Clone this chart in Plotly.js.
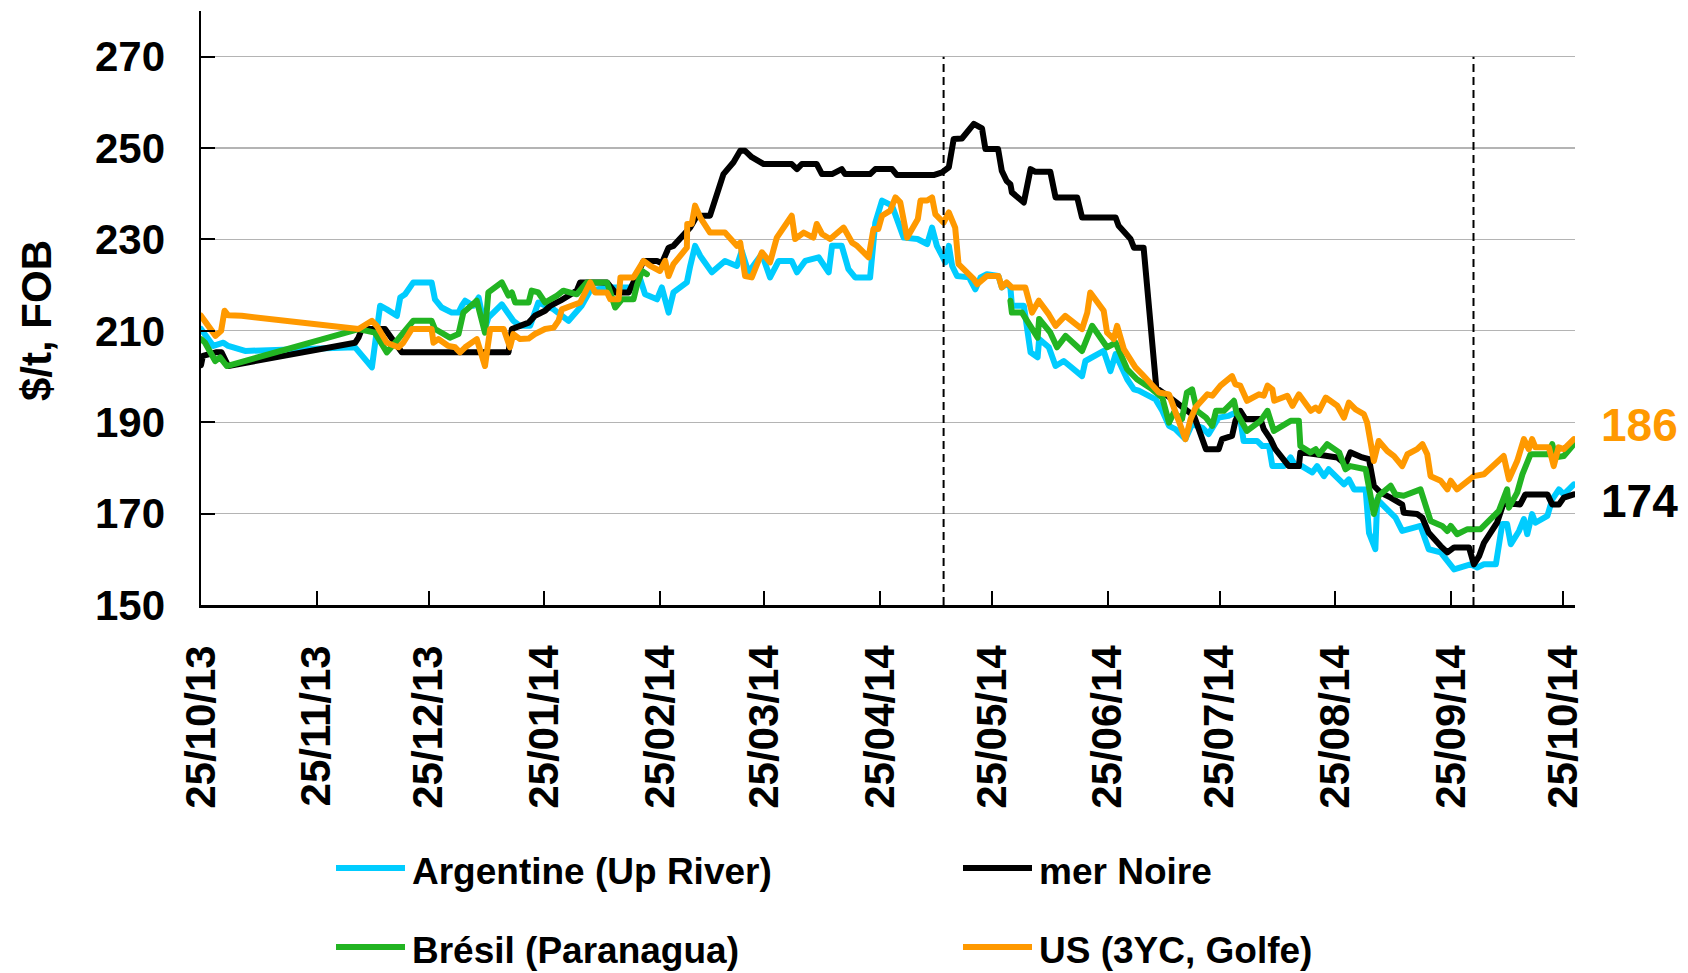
<!DOCTYPE html>
<html>
<head>
<meta charset="utf-8">
<script src="https://cdn.plot.ly/plotly-3.0.1.min.js"></script>
<style>
  html, body { margin: 0; padding: 0; background: #fff; }
  #chart { width: 1688px; height: 973px; }
  .scatterlayer .js-line { stroke-linejoin: round; stroke-linecap: round; }
</style>
</head>
<body>
<div id="chart"></div>
<script>
// ---- Data (x = days since 25/10/2013, y = $/t FOB) ----
const startDate = '2013-10-25';

const seriesNames  = ['Argentine (Up River)', 'mer Noire', 'Brésil (Paranagua)', 'US (3YC, Golfe)'];
const seriesColors = ['#00CCFF', '#000000', '#22B422', '#FF9900'];
const yAxisTitle = '$/t, FOB';

const argentineDays = [0,3.3,6,7.3,11.8,41.3,45.8,48,49.8,52.5,53.4,54.7,56.9,61.8,62.7,64.5,67.2,69,69.9,70.8,73,74.4,76.1,77,80.6,82.4,83.7,85.5,88.2,90.4,92.2,
  94.5,98.5,102,104.3,108.8,115,117.7,119,122.2,123.5,125.3,126.6,130.2,131.1,132.4,133.8,136.9,140.4,143.6,144.9,146.7,150.3,152.5,154.8,158.3,159.7,161.9,165.5,168.2,169.1,171.7,173.5,175.3,179.3,180.7,182.5,184.7,
  185.2,188.3,192,194.6,195.9,197.2,199.5,200.4,201.3,202.6,205.8,207.5,208.9,210.6,213.7,214.6,215.9,216.9,217.3,220.5,222.3,224.2,224.6,227.2,229,231.2,236.1,237,241.9,243.7,245.1,248.2,250,251.3,255.8,257.6,259.4,261.1,263.8,265.6,268.3,270,272.7,275.4,
  277.2,278.5,279.4,283,284.4,286.2,287.1,290.2,292,293.3,295,297.8,299.1,300.9,302.2,306.3,307.6,309,312.1,313,314.7,315.2,317,320.1,321.9,324.1,326.8,329,332.2,335.8,338,340.2,342,343.8,347,348.7,350,351,353.2,354.5,355.4,356.7,357.6,360.8,362.1,363.9,365.2,367.9];
const argentineValues = [210.4,206.7,207.4,206.7,205.6,206.4,202,215.5,214.7,213.3,217.3,218,220.6,220.6,216.9,215.1,214,214,215.5,216.6,215.5,217.3,210.4,212.9,215.8,214,212.2,211.1,211.1,216.2,215.5,
  214.7,212.2,215.5,218.8,219.5,219.5,221.3,218,216.9,219.5,214,218.4,220.6,224.2,228.6,226.4,222.8,225.3,224.2,227.5,222.8,226.8,221.7,225.3,225.3,222.8,225.3,226.1,222.8,228.6,228.6,223.5,221.7,221.7,233.7,238.5,237.7,
  237.4,230.4,230.1,229,232.6,228.6,225,228.6,224.2,222,221.7,219.1,221.7,222.4,222,219.5,220.3,219.5,215.5,215.5,205.3,204.2,208.2,206.4,202.3,203.4,200.1,203.4,205.6,201.2,204.9,199.4,197.2,196.9,195,192.5,189.2,188.5,186.3,189.6,188.8,187.4,191,191.4,
  192.1,190.7,185.9,185.9,184.8,184.8,180.4,180.4,182.3,180.4,180.4,179,180.4,178.2,179.7,176.4,177.5,175.3,175.3,165.8,162.2,173.1,171.7,169.1,166.2,166.6,167.3,162.2,161.5,157.8,158.5,158.9,158.2,158.9,158.9,167.7,167.7,163.3,166.2,168.8,165.5,169.9,168,169.5,173.1,175.3,174.2,176.4];

const merNoireDays = [0,0.5,4,5.5,7.3,41.3,42.2,43.1,49.3,53.8,82.4,83.3,87.8,89.5,92.2,93.6,96.3,100.7,101.6,108.8,111,114.6,118.6,122.2,123.5,125.3,126.6,129.3,131.1,132.9,136.4,140,142.7,144.5,145.8,147.6,150.8,158.3,159.7,161,165,166.4,169.1,171.7,172.6,179.3,180.7,
  185.2,186.5,196.3,198.6,200.4,201.7,203.9,207.1,209.3,210.2,213.6,214.6,215.9,216.9,217.3,220.5,222.3,223.6,227.6,229,234.8,236.1,245.1,245.9,249.1,250,252.6,256,258.5,262.1,266.1,269.3,272.7,273.6,276.3,
  277.2,278.5,279.9,283.9,284.8,286.6,287.9,290.6,291.5,294.2,294.6,298.7,304.5,306.7,308,311.2,313,314.3,316.1,318.8,321.9,322.3,325.9,327.3,329,332.2,334,335.8,339.8,341.1,342.5,343.8,347.3,349.1,351.7,353.5,354.9,360.8,362.1,363.9,365.2,367.9];
const merNoireValues = [202.5,204.5,205.3,205.3,202.3,207.4,208.5,210.4,210.4,205.3,205.3,210.4,211.8,213.3,214.4,215.5,216.6,218.8,220.6,220.6,218.4,218.4,225.3,225.3,224.8,228.2,228.6,230.8,232.6,235.2,235.2,244.3,246.9,249.4,249.4,248,246.5,246.5,245.4,246.5,246.5,244.3,244.3,245.4,244.3,244.3,245.4,
  245.4,244.1,244.1,244.7,245.8,252,252.1,255.3,254.3,249.8,249.8,245,242.8,242.1,240.3,238.1,245.4,244.8,244.8,239.2,239.2,234.8,234.8,233,230.1,228.2,228.2,197.5,196.1,193.9,191.4,184.1,184.1,186.3,187,
  190.3,192.5,190.7,190.7,188.5,186.3,184.1,181.2,180.4,180.4,183.4,183,182.3,180.8,183.4,182.3,181.9,176.1,174.6,173.5,172,170.2,169.9,169.1,165.8,162.9,161.5,162.6,162.6,158.9,160.7,163.6,168,172.4,172,172,174.2,174.2,172,172,173.5,174.2];

const bresilDays = [0,1.1,3.8,5.1,6.9,42.2,46.6,49.8,52,55.6,56.9,61.8,62.7,66.7,69,70.3,71.7,73.9,76.1,77,80.6,82.4,83.3,84.2,87.8,88.6,90.4,92.2,95.4,97.1,100.7,103.4,108.8,111,112.8,115.9,116.8,118.2,119.5,
  168,
  216.9,217.3,220,221.8,224.2,224.6,227.6,229.4,231.7,236.1,238.8,242.8,245.1,248.2,250.8,254.9,257.6,259.4,260.7,262.9,264.2,265.6,266.9,269.3,271,272,274.1,276.8,
  277.5,280.3,283.9,285.8,287.5,292,294.2,294.6,297.3,298.7,299.6,301.8,305,306.7,308,312.1,313,314.3,315.6,318.8,320.1,322.3,326.8,328.6,329.5,332.6,334,334.9,336.6,339.4,342.9,345.1,347.8,350,350.5,352.7,354.1,356.3,361.2,362.1,363,365.2,367.9];
const bresilValues = [208.2,207.4,203.4,204.2,202.3,210.4,209.6,205.3,207.4,211.1,212.2,212.2,210.4,208.5,209.3,214,215.1,216.6,209.6,218.4,220.6,217.7,218.4,216.2,216.2,218.8,218.4,216.2,217.7,218.8,218,220.6,220.6,215.1,216.9,216.9,219.9,223.1,222.4,
  null,
  216.6,214,214,211.8,208.5,212.6,209.6,206.4,208.9,205.6,211.1,206.4,207.4,201.6,199.4,197.2,195.4,189.9,192.1,190.7,196.5,197.2,192.5,191,189.2,192.5,192.5,194.7,
  192.1,188.1,190.3,192.5,188.1,190.3,190.3,184.8,183.4,184.1,183,185.2,183.4,179.7,180.4,179.7,176.1,169.9,173.9,176.1,174.2,173.9,175.3,171.3,168.4,167.3,166.2,167.3,165.5,166.6,166.6,168.4,170.6,175.3,171.3,174.6,178.6,183,183,185.2,182.3,182.6,185.2];

const usDays = [0,3.9,5.4,6.3,7.3,10.9,42.2,45.8,47.1,49.8,52.9,54.2,56.5,61.8,62.3,63.6,66.3,68.1,69.4,70.8,73.9,76.1,77.5,81.1,82.8,83.7,85.5,87.8,89.5,92.2,
  94.5,95.8,96.7,101.6,104.3,105.6,108.8,109.7,111.9,112.4,115.9,118.6,120.4,123,124.4,125.3,126.6,130.2,130.3,131.5,132.4,133.8,136.4,140.4,143.6,144.5,145.8,147.6,150.3,152.5,154.3,158.3,159.2,161.5,164.1,165,166.4,168.6,172.2,174.5,175.8,178.9,180.2,181.5,182.5,184.7,
  186.1,187.4,189.2,192.1,192.8,194.6,195.9,196.8,199,200.4,202.1,203,207.1,208,210.6,213.7,214.6,215.9,217.3,220.9,222.7,224.5,227.2,229,231.6,236.1,237.5,238.3,241.9,242.8,244.6,245.5,247.3,249.1,250.4,252.2,254.9,256.7,259.4,261.6,263.8,265.2,266.5,269.7,271,273.2,276.3,
  277.2,278.5,280.3,283.5,284.8,285.8,287.1,287.6,291.1,292.5,294.2,297.4,298.7,299.6,301.4,304.5,306.3,307.6,309.4,311.6,312.5,313.4,314.3,315.6,317.9,319.7,321.9,323.3,325.9,327.3,328.6,329.5,332.2,334,334.9,336.6,339.4,341.1,343.8,347.3,349.1,350.5,352.7,354.5,355.8,356.7,357.6,361.2,362.5,363.8,365.2,367.9];
const usValues = [213.3,208.9,210,214.4,213.4,213.3,210.4,212.2,211.1,207.4,206.4,207.4,210.4,210.4,207.4,208.2,206.7,206.4,205.3,206.4,208.2,202.3,210.4,210.4,206.4,209.3,208.2,208.3,209.3,210.4,
  210.7,212.2,214.7,216.2,220.6,218.4,218.4,216.9,216.9,221.7,221.7,225.3,224.2,223.1,225.3,222,224.6,228.2,233.4,233.4,237.4,234.8,231.5,231.5,228.6,229.3,222,221.7,227.2,225,230.4,235.2,230.1,231.5,230.4,233.4,231.2,230.1,232.6,229.3,228.6,226.1,232.3,232.3,235.2,236.3,
  239.2,238.1,230.4,234.5,238.5,238.5,239.2,235.5,233.7,235.9,232.6,224.6,221.3,220.2,222,222,219.5,220.6,219.5,219.5,214,216.6,213.6,211.1,213.3,210.4,214,218.4,214.4,209.6,208.2,211.1,206,203.4,202,200.5,198.3,196.5,196.1,191,186.3,190.7,193.2,196.1,195.8,198,200.1,
  198.3,198,194.7,196.1,195.8,198,197.2,194.7,195.8,193.6,196.1,192.5,193.2,192.5,195.4,193.6,191,194.3,192.8,191.8,189.9,185.5,181.5,185.9,183.7,182.6,180.4,183,184.1,185.2,183,178.2,177.2,175.3,177.2,175.3,177.2,178.2,178.6,181.2,182.6,177.5,181.5,186.3,184.1,186.3,184.5,184.5,180.4,184.5,184.1,186.3];

const seriesDays   = [argentineDays, merNoireDays, bresilDays, usDays];
const seriesValues = [argentineValues, merNoireValues, bresilValues, usValues];

// Ticks
const xTickDates  = ['2013-10-25','2013-11-25','2013-12-25','2014-01-25','2014-02-25','2014-03-25','2014-04-25','2014-05-25','2014-06-25','2014-07-25','2014-08-25','2014-09-25','2014-10-25'];
const xTickLabels = ['25/10/13','25/11/13','25/12/13','25/01/14','25/02/14','25/03/14','25/04/14','25/05/14','25/06/14','25/07/14','25/08/14','25/09/14','25/10/14'];
const yTickValues = [150,170,190,210,230,250,270];
const yTickLabels = ['150','170','190','210','230','250','270'];

// Event markers (dashed vertical lines) and x extent
const markerDates = ['2014-05-12','2014-10-01'];
const xRangeDays = [0, 368.2];
const yRange = [150, 280];

// ---- Build ----
const DAY = 86400000;
const [sy, sm, sd] = startDate.split('-').map(Number);
const T0 = Date.UTC(sy, sm - 1, sd);
const toTime = d => T0 + d * DAY;
const dateToTime = s => { const [a,b,c] = s.split('-').map(Number); return Date.UTC(a, b - 1, c); };

const FONT = 'Arial, "Liberation Sans", sans-serif';

const traces = seriesNames.map((name, i) => ({
  type: 'scatter', mode: 'lines', name: name,
  x: seriesDays[i].map(toTime),
  y: seriesValues[i],
  connectgaps: false,
  line: { color: seriesColors[i], width: 6 },
  hoverinfo: 'x+y+name'
}));

const shapes = markerDates.map(d => ({
  type: 'line', xref: 'x', yref: 'y',
  x0: dateToTime(d), x1: dateToTime(d), y0: yRange[0], y1: 270,
  line: { color: '#000', width: 2, dash: '8px,5px' }
}));

// Custom legend (2 columns x 2 rows)
const plotL = 201, plotR = 1575, plotT = 11, plotB = 605;
const px2x = p => (p - plotL) / (plotR - plotL);
const px2y = p => (plotB - p) / (plotB - plotT);
const legendCols = [336, 963];
const legendRows = [868, 947];
const annotations = [];
seriesNames.forEach((name, i) => {
  const col = legendCols[i % 2], row = legendRows[Math.floor(i / 2)];
  shapes.push({
    type: 'line', xref: 'paper', yref: 'paper',
    x0: px2x(col), x1: px2x(col + 69), y0: px2y(row), y1: px2y(row),
    line: { color: seriesColors[i], width: 6 }
  });
  annotations.push({
    xref: 'paper', yref: 'paper', x: px2x(col + 74), y: px2y(row + 3),
    xanchor: 'left', yanchor: 'middle', showarrow: false, text: name,
    font: { family: FONT, size: 37, color: '#000', weight: 'bold' }
  });
});

// Y-axis title
annotations.push({
  xref: 'paper', yref: 'paper', x: px2x(36), y: px2y(321),
  xanchor: 'center', yanchor: 'middle', textangle: -90, showarrow: false,
  text: yAxisTitle,
  font: { family: FONT, size: 42, color: '#000', weight: 'bold' }
});

// End-value labels for US and mer Noire
[[3, 14], [1, -7]].forEach(([i, ys]) => {
  const days = seriesDays[i], vals = seriesValues[i];
  const last = vals[vals.length - 1];
  annotations.push({
    xref: 'x', yref: 'y', x: toTime(days[days.length - 1]), y: last,
    xanchor: 'left', yanchor: 'middle', xshift: 25, yshift: ys, showarrow: false,
    text: String(Math.round(last)),
    font: { family: FONT, size: 46, color: seriesColors[i], weight: 'bold' }
  });
});

const layout = {
  width: 1688, height: 973,
  margin: { l: plotL, r: 1688 - plotR, t: plotT, b: 973 - plotB, pad: 0 },
  paper_bgcolor: '#fff', plot_bgcolor: '#fff',
  showlegend: false,
  font: { family: FONT, color: '#000' },
  xaxis: {
    type: 'date',
    range: [toTime(xRangeDays[0]), toTime(xRangeDays[1])],
    tickmode: 'array', tickvals: xTickDates.map(dateToTime), ticktext: xTickLabels,
    tickangle: -90,
    ticks: 'inside', ticklen: 14, tickwidth: 2, tickcolor: '#000',
    showline: true, linecolor: '#000', linewidth: 2.5,
    showgrid: false, zeroline: false,
    tickfont: { family: FONT, size: 42, color: '#000', weight: 'bold' },
    ticklabelstandoff: 21,
    automargin: false, fixedrange: true
  },
  yaxis: {
    range: yRange,
    tickmode: 'array', tickvals: yTickValues, ticktext: yTickLabels,
    ticks: 'inside', ticklen: 14, tickwidth: 2, tickcolor: '#000',
    showline: true, linecolor: '#000', linewidth: 2.5,
    showgrid: true, gridcolor: '#B4B4B4', gridwidth: 1.2,
    zeroline: false,
    tickfont: { family: FONT, size: 42, color: '#000', weight: 'bold' },
    ticklabelstandoff: 25,
    automargin: false, fixedrange: true
  },
  shapes: shapes,
  annotations: annotations
};

Plotly.newPlot('chart', traces, layout, { displayModeBar: false, staticPlot: true });
</script>
</body>
</html>
